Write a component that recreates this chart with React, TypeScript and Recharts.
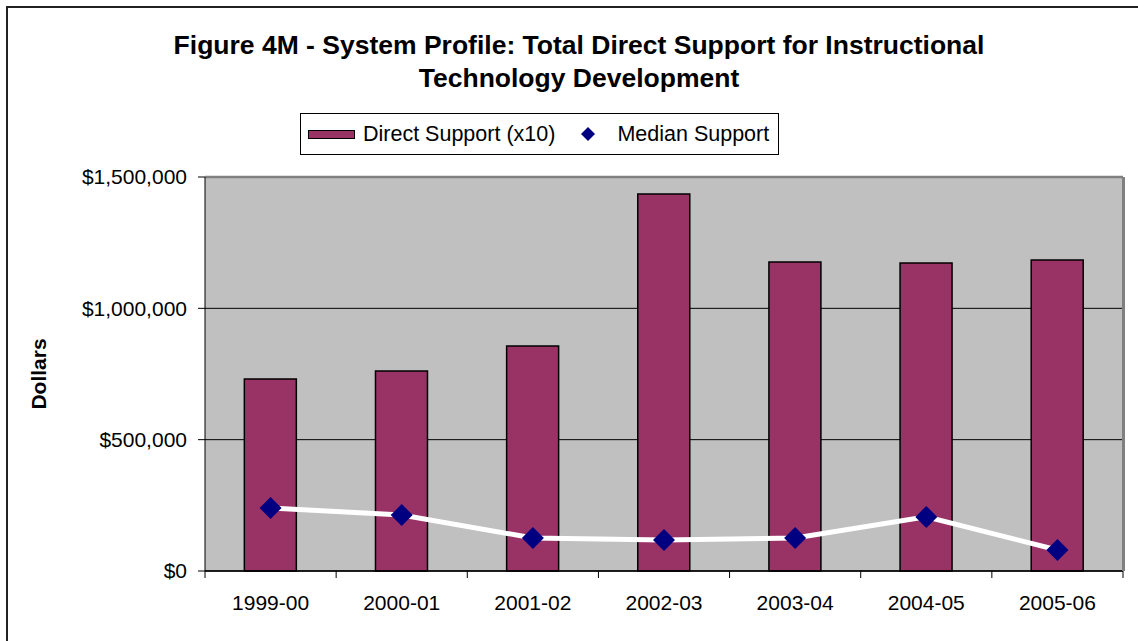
import React from "react";
import {
  ComposedChart,
  Bar,
  Line,
  XAxis,
  YAxis,
  CartesianGrid,
  Legend,
  ReferenceLine,
} from "recharts";

const categories = ["1999-00", "2000-01", "2001-02", "2002-03", "2003-04", "2004-05", "2005-06"];
const directSupportX10 = [731000, 761000, 857000, 1435000, 1176000, 1173000, 1184000];
const medianSupport = [240000, 213000, 126000, 118000, 126000, 206000, 80000];
const yTicks = [0, 500000, 1000000, 1500000];

const data = categories.map((c, i) => ({
  year: c,
  direct: directSupportX10[i],
  median: medianSupport[i],
}));

const FONT = "Arial, 'Liberation Sans', Helvetica, sans-serif";
const CHART_W = 1138;
const MARGIN = { top: 177, right: 15, bottom: 40, left: 0 };
const Y_AXIS_W = 205;
const PLOT_W = CHART_W - MARGIN.right - MARGIN.left - Y_AXIS_W;

const fmtDollar = (v: number) => "$" + v.toLocaleString("en-US");

const Diamond = (props: any) => {
  const { cx, cy } = props;
  if (cx == null || cy == null) return null;
  const r = 11;
  return (
    <polygon
      points={`${cx},${cy - r} ${cx + r},${cy} ${cx},${cy + r} ${cx - r},${cy}`}
      fill="#000080"
    />
  );
};

const CategoryTick = (props: any) => {
  const { x, y, payload, index } = props;
  const half =
    payload && typeof payload.offset === "number" && payload.offset > 0
      ? payload.offset
      : PLOT_W / categories.length / 2;
  const isLast = index === categories.length - 1;
  return (
    <g>
      <line x1={x - half} x2={x - half} y1={y} y2={y + 7} stroke="#000" strokeWidth={1} />
      {isLast && (
        <line x1={x + half} x2={x + half} y1={y} y2={y + 7} stroke="#000" strokeWidth={1} />
      )}
      <text
        x={x}
        y={y + 24}
        dy="0.71em"
        textAnchor="middle"
        fill="#000"
        fontSize={21}
        fontFamily={FONT}
      >
        {payload.value}
      </text>
    </g>
  );
};

const LegendBox = () => (
  <div
    style={{
      width: 479,
      height: 42,
      boxSizing: "border-box",
      border: "1px solid #000",
      background: "#fff",
      display: "flex",
      alignItems: "center",
      fontFamily: FONT,
      fontSize: 21.5,
      color: "#000",
      whiteSpace: "nowrap",
    }}
  >
    <span
      style={{
        display: "inline-block",
        width: 47,
        height: 9,
        boxSizing: "border-box",
        background: "#993366",
        border: "1px solid #000",
        marginLeft: 7,
        marginRight: 8,
      }}
    />
    <span>Direct Support (x10)</span>
    <svg width={14} height={14} style={{ marginLeft: 26, marginRight: 22 }}>
      <polygon points="7,0 14,7 7,14 0,7" fill="#000080" />
    </svg>
    <span>Median Support</span>
  </div>
);

export default function App() {
  return (
    <div
      style={{
        position: "absolute",
        left: 0,
        top: 0,
        width: 1138,
        height: 641,
        overflow: "hidden",
        background: "#fff",
      }}
    >
      <div
        style={{
          position: "absolute",
          left: 6,
          top: 6,
          width: 1200,
          height: 700,
          borderLeft: "2px solid #222",
          borderTop: "2px solid #222",
        }}
      />
      <div
        style={{
          position: "absolute",
          left: 0,
          top: 29,
          width: 1158,
          textAlign: "center",
          fontFamily: FONT,
          fontWeight: "bold",
          fontSize: 26.5,
          lineHeight: "33px",
          color: "#000",
        }}
      >
        Figure 4M - System Profile: Total Direct Support for Instructional
        <br />
        Technology Development
      </div>
      <div style={{ position: "absolute", left: 0, top: 0 }}>
        <ComposedChart
          width={CHART_W}
          height={641}
          data={data}
          margin={MARGIN}
          barCategoryGap="30%"
        >
          <CartesianGrid
            vertical={false}
            stroke="#000"
            strokeWidth={1}
            fill="#C0C0C0"
            fillOpacity={1}
          />
          <XAxis
            dataKey="year"
            type="category"
            height={30}
            axisLine={{ stroke: "#000", strokeWidth: 1.5 }}
            tickLine={false}
            tickSize={0}
            tickMargin={0}
            interval={0}
            tick={<CategoryTick />}
          />
          <YAxis
            width={Y_AXIS_W}
            domain={[0, 1500000]}
            ticks={yTicks}
            tickFormatter={fmtDollar}
            tickSize={7}
            tickMargin={11}
            interval={0}
            axisLine={{ stroke: "#000", strokeWidth: 1 }}
            tickLine={{ stroke: "#000" }}
            tick={{ fill: "#000", fontSize: 21, fontFamily: FONT }}
            label={{
              value: "Dollars",
              angle: -90,
              position: "center",
              dx: -64,
              style: { fontWeight: "bold", fontSize: 21, fontFamily: FONT, fill: "#000" },
            }}
          />
          <ReferenceLine y={1500000} stroke="#808080" strokeWidth={2.5} />
          <ReferenceLine x={categories[categories.length - 1]} stroke="none" />
          <Legend
            verticalAlign="middle"
            align="center"
            layout="horizontal"
            wrapperStyle={{ top: 113, left: 300, width: 479, height: 42 }}
            content={() => <LegendBox />}
          />
          <Bar
            dataKey="direct"
            name="Direct Support (x10)"
            fill="#993366"
            stroke="#000"
            strokeWidth={1.5}
            isAnimationActive={false}
          />
          <Line
            dataKey="median"
            name="Median Support"
            stroke="#fff"
            strokeWidth={5}
            dot={<Diamond />}
            activeDot={false}
            isAnimationActive={false}
          />
        </ComposedChart>
      </div>
      <div
        style={{
          position: "absolute",
          left: Y_AXIS_W + PLOT_W - 1,
          top: MARGIN.top,
          width: 2.5,
          height: 571 - MARGIN.top,
          background: "#808080",
          pointerEvents: "none",
        }}
      />
    </div>
  );
}
